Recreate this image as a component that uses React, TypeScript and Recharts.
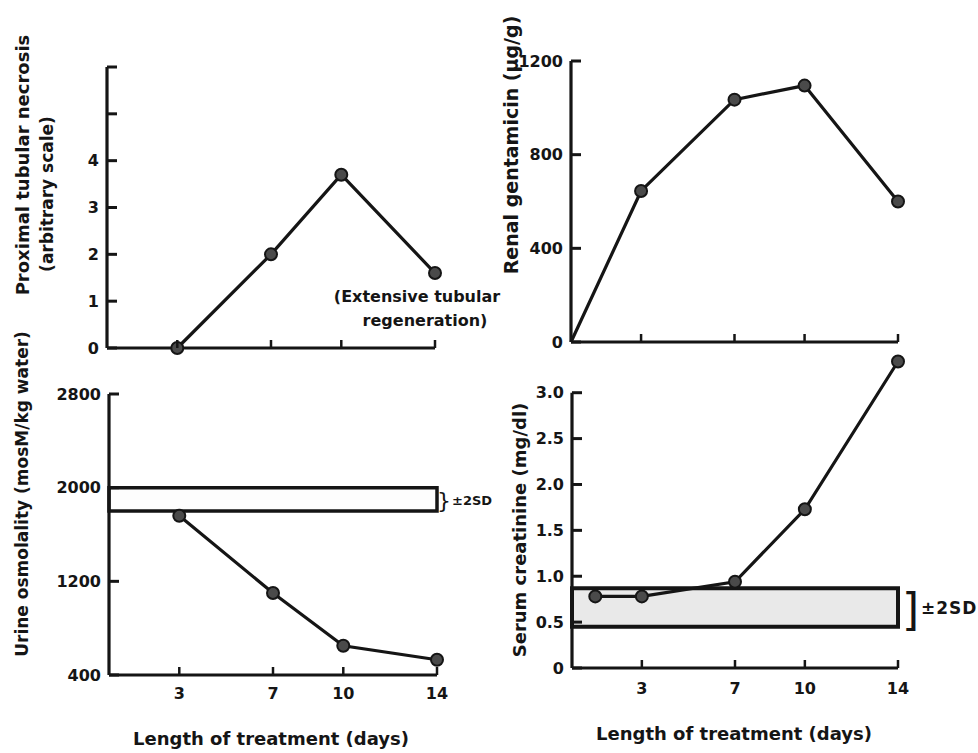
import React from 'react';
import { LineChart, Line, XAxis, YAxis, ReferenceArea, ReferenceLine } from 'recharts';

// ---------- data ----------
const necrosisDays = [3, 7, 10, 14];
const necrosisValues = [0, 2, 3.7, 1.6];

const gentamicinDays = [0, 3, 7, 10, 14];
const gentamicinValues = [0, 645, 1035, 1095, 600];

const osmolalityDays = [3, 7, 10, 14];
const osmolalityValues = [1760, 1100, 650, 530];
const osmolalityBand = [1800, 2000];

const creatinineDays = [1, 3, 7, 10, 14];
const creatinineValues = [0.78, 0.78, 0.94, 1.73, 3.34];
const creatinineBand = [0.45, 0.87];

const dayTicks = [3, 7, 10, 14];
const dayTickLabels = ['3', '7', '10', '14'];

const necrosisTicks = [0, 1, 2, 3, 4, 5, 6];
const necrosisTickLabels = ['0', '1', '2', '3', '4', '', ''];
const gentamicinTicks = [0, 400, 800, 1200];
const gentamicinTickLabels = ['0', '400', '800', '1200'];
const osmolalityTicks = [400, 1200, 2000, 2800];
const osmolalityTickLabels = ['400', '1200', '2000', '2800'];
const creatinineTicks = [0, 0.5, 1.0, 1.5, 2.0, 2.5, 3.0];
const creatinineTickLabels = ['0', '0.5', '1.0', '1.5', '2.0', '2.5', '3.0'];

const toRows = (xs: number[], ys: number[]) => xs.map((d, i) => ({ day: d, value: ys[i] }));

const necrosisData = toRows(necrosisDays, necrosisValues);
const gentamicinData = toRows(gentamicinDays, gentamicinValues);
const osmolalityData = toRows(osmolalityDays, osmolalityValues);
const creatinineData = toRows(creatinineDays, creatinineValues);

// ---------- styles ----------
const INK = '#151515';
const FONT = '"DejaVu Sans", sans-serif';

const makeYTick = (ticks: number[], labels: string[]) => (props: any) => {
  const { x, y, payload } = props;
  const idx = ticks.indexOf(payload.value);
  const label = idx >= 0 ? labels[idx] : '';
  return (
    <g>
      <line x1={x} x2={x + 10} y1={y} y2={y} stroke={INK} strokeWidth={3} />
      {label !== '' && (
        <text x={x - 8} y={y} dy="0.36em" textAnchor="end" fontFamily={FONT} fontWeight="bold" fontSize={16} fill={INK}>
          {label}
        </text>
      )}
    </g>
  );
};

const makeXTick = (showLabels: boolean, labelOffset: number) => (props: any) => {
  const { x, y, payload } = props;
  const idx = dayTicks.indexOf(payload.value);
  const label = idx >= 0 ? dayTickLabels[idx] : '';
  return (
    <g>
      <line x1={x} x2={x} y1={y} y2={y - 8} stroke={INK} strokeWidth={2.5} />
      {showLabels && (
        <text x={x} y={y + labelOffset} dy="0.36em" textAnchor="middle" fontFamily={FONT} fontWeight="bold" fontSize={16} fill={INK}>
          {label}
        </text>
      )}
    </g>
  );
};

const dotRenderer = (props: any) => {
  const { cx, cy, payload, index } = props;
  if (payload.day === 0) return <g key={`d${index}`} />;
  return <circle key={`d${index}`} cx={cx} cy={cy} r={6} fill="#4a4a4a" stroke={INK} strokeWidth={2} />;
};

const lineProps = {
  type: 'linear' as const,
  dataKey: 'value',
  stroke: INK,
  strokeWidth: 3.2,
  dot: dotRenderer,
  isAnimationActive: false,
};

const box = (left: number, top: number): React.CSSProperties => ({ position: 'absolute', left, top });

export default function App() {
  return (
    <div style={{ position: 'absolute', left: 0, top: 0, width: 978, height: 753, background: '#fff', overflow: 'hidden' }}>
      {/* Top-left: proximal tubular necrosis */}
      <div style={box(0, 0)}>
        <LineChart width={480} height={376} data={necrosisData} margin={{ top: 67, right: 45, left: 0, bottom: 0 }}>
          <XAxis dataKey="day" type="number" domain={[0, 14]} ticks={dayTicks} height={28} tickSize={0} tickMargin={0}
            tickLine={false} axisLine={{ stroke: INK, strokeWidth: 3.2 }} tick={makeXTick(false, 0)} />
          <YAxis type="number" domain={[0, 6]} ticks={necrosisTicks} width={107} tickSize={0} tickMargin={0}
            tickLine={false} axisLine={{ stroke: INK, strokeWidth: 3.2 }} tick={makeYTick(necrosisTicks, necrosisTickLabels)} />
          <Line {...lineProps} />
        </LineChart>
      </div>

      {/* Top-right: renal gentamicin */}
      <div style={box(480, 0)}>
        <LineChart width={498} height={376} data={gentamicinData} margin={{ top: 61, right: 80, left: 0, bottom: 0 }}>
          <XAxis dataKey="day" type="number" domain={[0, 14]} ticks={dayTicks} height={34} tickSize={0} tickMargin={0}
            tickLine={false} axisLine={{ stroke: INK, strokeWidth: 3.2 }} tick={makeXTick(false, 0)} />
          <YAxis type="number" domain={[0, 1200]} ticks={gentamicinTicks} width={91} tickSize={0} tickMargin={0}
            tickLine={false} axisLine={{ stroke: INK, strokeWidth: 3.2 }} tick={makeYTick(gentamicinTicks, gentamicinTickLabels)} />
          <Line {...lineProps} />
        </LineChart>
      </div>

      {/* Bottom-left: urine osmolality */}
      <div style={box(0, 376)}>
        <LineChart width={480} height={377} data={osmolalityData} margin={{ top: 18, right: 43, left: 0, bottom: 0 }}>
          <XAxis dataKey="day" type="number" domain={[0, 14]} ticks={dayTicks} height={78} tickSize={0} tickMargin={0}
            tickLine={false} axisLine={{ stroke: INK, strokeWidth: 3.2 }} tick={makeXTick(true, 18)} />
          <YAxis type="number" domain={[400, 2800]} ticks={osmolalityTicks} width={109} tickSize={0} tickMargin={0}
            tickLine={false} axisLine={{ stroke: INK, strokeWidth: 3.2 }} tick={makeYTick(osmolalityTicks, osmolalityTickLabels)} />
          <ReferenceArea x1={0} x2={14} y1={osmolalityBand[0]} y2={osmolalityBand[1]} fill="#fdfdfd" fillOpacity={1}
            stroke={INK} strokeWidth={3.5} />
          <Line {...lineProps} />
        </LineChart>
      </div>

      {/* Bottom-right: serum creatinine */}
      <div style={box(480, 350)}>
        <LineChart width={498} height={403} data={creatinineData} margin={{ top: 6, right: 80, left: 0, bottom: 0 }}>
          <XAxis dataKey="day" type="number" domain={[0, 14]} ticks={dayTicks} height={85} tickSize={0} tickMargin={0}
            tickLine={false} axisLine={{ stroke: INK, strokeWidth: 3.2 }} tick={makeXTick(true, 20)} />
          <YAxis type="number" domain={[0, 3.4]} ticks={creatinineTicks} width={92} tickSize={0} tickMargin={0}
            tickLine={false} axisLine={false} tick={makeYTick(creatinineTicks, creatinineTickLabels)} />
          <ReferenceLine segment={[{ x: 0, y: 0 }, { x: 0, y: 3.0 }]} stroke={INK} strokeWidth={3.2} />
          <ReferenceArea x1={0} x2={14} y1={creatinineBand[0]} y2={creatinineBand[1]} fill="#e9e9e9" fillOpacity={1}
            stroke={INK} strokeWidth={4} />
          <Line {...lineProps} />
        </LineChart>
      </div>

      {/* Text overlay */}
      <svg width={978} height={753} style={{ position: 'absolute', left: 0, top: 0, pointerEvents: 'none' }}
        fontFamily={FONT} fontWeight="bold" fill={INK}>
        <text x={22} y={165} transform="rotate(-90 22 165)" textAnchor="middle" dominantBaseline="central" fontSize={18}>
          Proximal tubular necrosis
        </text>
        <text x={47} y={194} transform="rotate(-90 47 194)" textAnchor="middle" dominantBaseline="central" fontSize={17}>
          (arbitrary scale)
        </text>
        <text x={511} y={145} transform="rotate(-90 511 145)" textAnchor="middle" dominantBaseline="central" fontSize={19}>
          Renal gentamicin (μg/g)
        </text>
        <text x={22} y={494} transform="rotate(-90 22 494)" textAnchor="middle" dominantBaseline="central" fontSize={17}>
          Urine osmolality (mosM/kg water)
        </text>
        <text x={519} y={530} transform="rotate(-90 519 530)" textAnchor="middle" dominantBaseline="central" fontSize={18}>
          Serum creatinine (mg/dl)
        </text>

        <text x={417} y={296} textAnchor="middle" dominantBaseline="central" fontSize={16}>(Extensive tubular</text>
        <text x={425} y={320} textAnchor="middle" dominantBaseline="central" fontSize={16}>regeneration)</text>

        <text x={271} y={738} textAnchor="middle" dominantBaseline="central" fontSize={18}>Length of treatment (days)</text>
        <text x={734} y={733} textAnchor="middle" dominantBaseline="central" fontSize={18}>Length of treatment (days)</text>

        <text x={437} y={500} dominantBaseline="central" fontSize={22} fontWeight="normal">{'}'}</text>
        <text x={452} y={500} dominantBaseline="central" fontSize={13}>±2SD</text>
        <text x={902} y={609} dominantBaseline="central" fontSize={44} fontWeight="normal">]</text>
        <text x={921} y={608} dominantBaseline="central" fontSize={17} letterSpacing={1}>±2SD</text>
      </svg>
    </div>
  );
}
